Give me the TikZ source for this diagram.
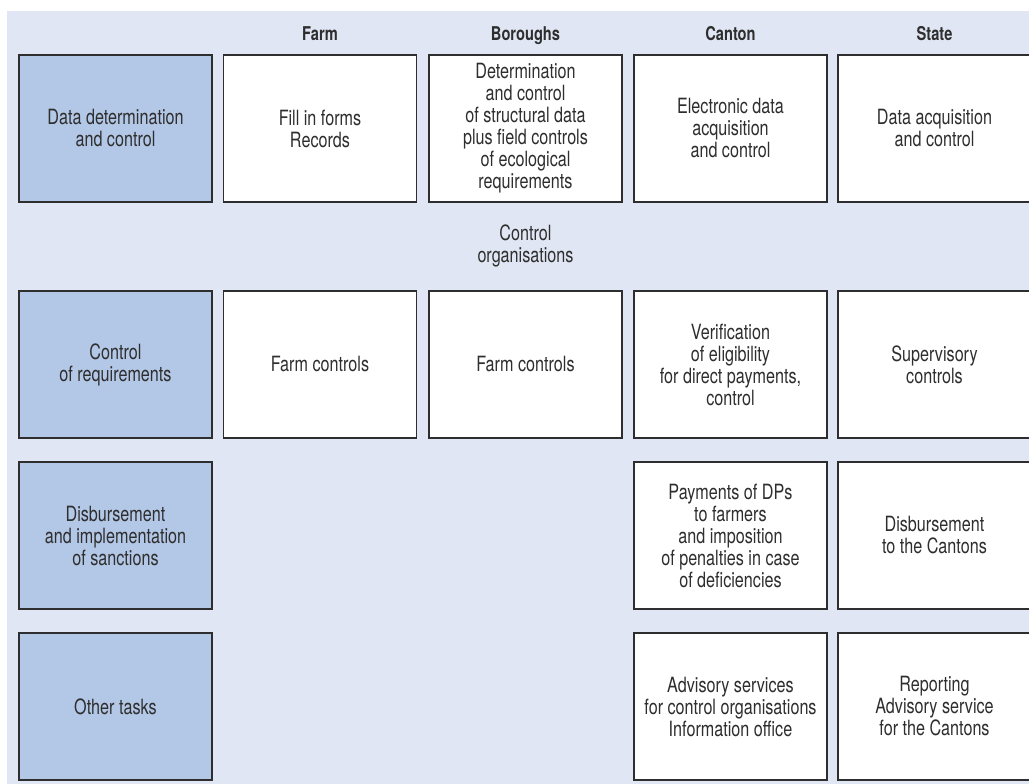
\documentclass[tikz,border=0pt]{standalone}
\usepackage{fontspec}
\setmainfont{TeX Gyre Heros}[FakeStretch=0.77]
\definecolor{panel}{HTML}{E0E6F3}
\definecolor{rowhead}{HTML}{B3C7E6}
\definecolor{ink}{HTML}{2E2E2E}
\begin{document}
\begin{tikzpicture}[x=1pt,y=-1pt,
  cell/.style={draw=ink,line width=1.3pt,fill=white,minimum width=193pt,minimum height=147pt,
    inner sep=0pt,align=center,text=ink,font=\fontsize{21}{22}\selectfont},
  rowcell/.style={cell,fill=rowhead},
  colhead/.style={text=ink,font=\bfseries\fontsize{19}{20}\selectfont,anchor=base},
  note/.style={text=ink,align=center,font=\fontsize{21}{22}\selectfont}]
\useasboundingbox (0,0) rectangle (1029,784);
\clip (0,0) rectangle (1029,784);
\fill[panel] (7,11) rectangle (1040,800);
% column headings
\node[colhead] (hfarm) at (320,41) {Farm};
\node[colhead] (hbor) at (525.5,41) {Boroughs};
\node[colhead] (hcan) at (730.5,41) {Canton};
\node[colhead] (hsta) at (934.5,41) {State};
% row 1
\node[rowcell] (r1) at (115.5,128.5) {Data determination\\and control};
\node[cell] (r1farm) at (320,128.5) {Fill in forms\\Records};
\node[cell] (r1bor) at (525.5,128.5) {Determination\\and control\\of structural data\\plus field controls\\of ecological\\requirements};
\node[cell] (r1can) at (730.5,128.5) {Electronic data\\acquisition\\and control};
\node[cell] (r1sta) at (934.5,128.5) {Data acquisition\\and control};
\node[note] (ctrlorg) at (525.5,246) {Control\\organisations};
% row 2
\node[rowcell] (r2) at (115.5,364.5) {Control\\of requirements};
\node[cell] (r2farm) at (320,364.5) {Farm controls};
\node[cell] (r2bor) at (525.5,364.5) {Farm controls};
\node[cell] (r2can) at (730.5,364.5) {Verification\\of eligibility\\for direct payments,\\control};
\node[cell] (r2sta) at (934.5,364.5) {Supervisory\\controls};
% row 3
\node[rowcell] (r3) at (115.5,535.5) {Disbursement\\and implementation\\of sanctions};
\node[cell] (r3can) at (730.5,535.5) {Payments of DPs\\to farmers\\and imposition\\of penalties in case\\of deficiencies};
\node[cell] (r3sta) at (934.5,535.5) {Disbursement\\to the Cantons};
% row 4
\node[rowcell] (r4) at (115.5,706.5) {Other tasks};
\node[cell] (r4can) at (730.5,706.5) {Advisory services\\for control organisations\\Information office};
\node[cell] (r4sta) at (934.5,706.5) {Reporting\\Advisory service\\for the Cantons};
\end{tikzpicture}
\end{document}
